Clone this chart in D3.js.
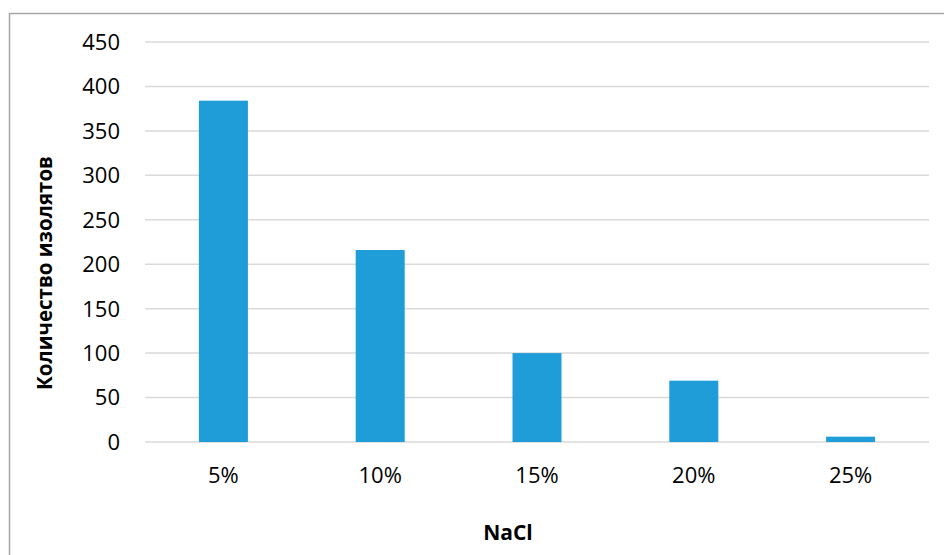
<!DOCTYPE html>
<html>
<head>
<meta charset="utf-8">
<script src="https://cdn.jsdelivr.net/npm/d3@7"></script>
<style>
  html, body { margin: 0; padding: 0; background: #fff; }
  svg { display: block; }
  text { font-family: "Open Sans", "Noto Sans", sans-serif; fill: #000; }
</style>
</head>
<body>
<svg id="chart" width="944" height="555"></svg>
<script>
// NaCl concentration categories and number of isolates growing at each
const categories = ["5%", "10%", "15%", "20%", "25%"];
const isolateCounts = [384, 216, 100, 69, 6];
const yTicks = [0, 50, 100, 150, 200, 250, 300, 350, 400, 450];
const yAxisTitle = "Количество изолятов";
const xAxisTitle = "NaCl";

const svg = d3.select("#chart");
const W = 944, H = 555;

// chart frame (runs off the right and bottom edges)
svg.append("rect")
  .attr("x", 9.5).attr("y", 13.5)
  .attr("width", W + 10).attr("height", H + 10)
  .attr("fill", "none")
  .attr("stroke", "#a6a6a6")
  .attr("stroke-width", 1.5);

const plot = { left: 145, right: 929, top: 42, bottom: 442 };

const x = d3.scaleBand()
  .domain(categories)
  .range([plot.left, plot.right])
  .paddingInner(0.6875)
  .paddingOuter(0.34375);

const y = d3.scaleLinear()
  .domain([0, 450])
  .range([plot.bottom, plot.top]);

// horizontal gridlines
svg.append("g")
  .selectAll("line")
  .data(yTicks)
  .join("line")
  .attr("x1", plot.left).attr("x2", plot.right)
  .attr("y1", d => y(d)).attr("y2", d => y(d))
  .attr("stroke", "#d9d9d9")
  .attr("stroke-width", 1.5);

// y tick labels
svg.append("g")
  .selectAll("text")
  .data(yTicks)
  .join("text")
  .attr("x", 120)
  .attr("y", d => y(d))
  .attr("dy", "0.36em")
  .attr("text-anchor", "end")
  .attr("font-size", 22)
  .text(d => d);

// bars
svg.append("g")
  .selectAll("rect")
  .data(categories.map((c, i) => ({ c, v: isolateCounts[i] })))
  .join("rect")
  .attr("x", d => x(d.c))
  .attr("width", x.bandwidth())
  .attr("y", d => y(d.v))
  .attr("height", d => y(0) - y(d.v))
  .attr("fill", "#1f9dd9");

// category labels
svg.append("g")
  .selectAll("text")
  .data(categories)
  .join("text")
  .attr("x", d => x(d) + x.bandwidth() / 2)
  .attr("y", 483)
  .attr("text-anchor", "middle")
  .attr("font-size", 22)
  .text(d => d);

// axis titles
svg.append("text")
  .attr("transform", "translate(52,273) rotate(-90)")
  .attr("text-anchor", "middle")
  .attr("font-size", 20.5)
  .attr("font-weight", "bold")
  .text(yAxisTitle);

svg.append("text")
  .attr("x", 508)
  .attr("y", 540)
  .attr("text-anchor", "middle")
  .attr("font-size", 21)
  .attr("font-weight", "bold")
  .text(xAxisTitle);
</script>
</body>
</html>
